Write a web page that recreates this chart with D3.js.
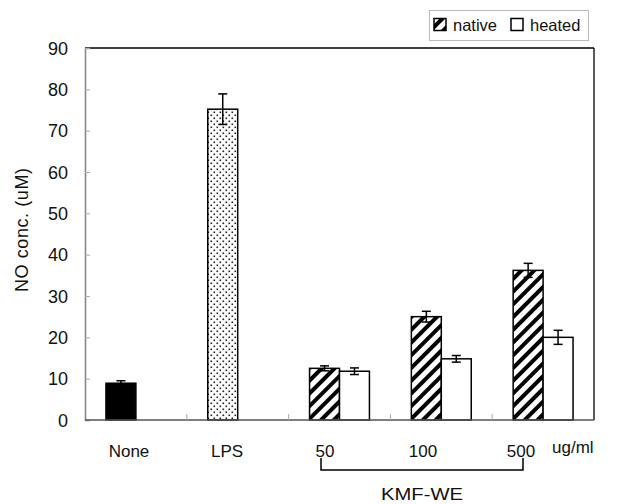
<!DOCTYPE html>
<html>
<head>
<meta charset="utf-8">
<script src="https://cdn.jsdelivr.net/npm/d3@7"></script>
<style>
  html, body { margin: 0; padding: 0; background: #fff; }
  svg { display: block; font-family: "Liberation Sans", Arial, sans-serif; }
</style>
</head>
<body>
<svg id="chart" width="631" height="504"></svg>
<script>
// NO production by treatment
const categories = ["None", "LPS", "50", "100", "500"];
const seriesNames = ["native", "heated"];
const nativeValues = [8.9, 75.2, 12.5, 25.0, 36.2];
const nativeErrors = [0.6, 3.7, 0.6, 1.3, 1.7];
const heatedValues = [null, null, 11.8, 14.8, 20.0];
const heatedErrors = [null, null, 0.8, 0.8, 1.7];
const yTicks = [0, 10, 20, 30, 40, 50, 60, 70, 80, 90];

const svg = d3.select("#chart");
const plotLeft = 85, plotRight = 594, plotTop = 48, plotBottom = 420;

const y = d3.scaleLinear().domain([0, 90]).range([plotBottom, plotTop]);
const x0 = d3.scaleBand().domain(categories).range([plotLeft, plotRight]).paddingInner(0).paddingOuter(0);
const x1 = d3.scaleBand().domain(seriesNames).range([0, x0.bandwidth()]).paddingInner(0).paddingOuter(0.7);
const labelX = d3.scalePoint().domain(categories).range([129, 521]);

// fill patterns
const defs = svg.append("defs");
const hatch = defs.append("pattern").attr("id", "hatch")
  .attr("patternUnits", "userSpaceOnUse").attr("width", 9).attr("height", 9)
  .attr("patternTransform", "rotate(45)");
hatch.append("rect").attr("width", 9).attr("height", 9).attr("fill", "#fff");
hatch.append("rect").attr("x", 0).attr("width", 4).attr("height", 9).attr("fill", "#000");

const dots = defs.append("pattern").attr("id", "dots")
  .attr("patternUnits", "userSpaceOnUse").attr("width", 6).attr("height", 6);
dots.append("rect").attr("width", 6).attr("height", 6).attr("fill", "#fff");
dots.append("rect").attr("x", 0.5).attr("y", 0.5).attr("width", 1.6).attr("height", 1.6).attr("fill", "#222");
dots.append("rect").attr("x", 3.5).attr("y", 3.5).attr("width", 1.6).attr("height", 1.6).attr("fill", "#222");

function firstFill(cat) {
  if (cat === "None") return "#000";
  if (cat === "LPS") return "url(#dots)";
  return "url(#hatch)";
}

// frame: top and right black
svg.append("line").attr("x1", plotLeft).attr("x2", plotRight).attr("y1", plotTop).attr("y2", plotTop)
  .attr("stroke", "#000").attr("stroke-width", 1.3);
svg.append("line").attr("x1", plotRight).attr("x2", plotRight).attr("y1", plotTop).attr("y2", plotBottom)
  .attr("stroke", "#000").attr("stroke-width", 1.3);

// y axis with inward ticks
const yAxis = d3.axisRight(y).tickValues(yTicks).tickSize(5).tickFormat("");
const yg = svg.append("g").attr("transform", `translate(${plotLeft},0)`).call(yAxis);
yg.select(".domain").attr("stroke", "#888").attr("stroke-width", 1.6);
yg.selectAll(".tick line").attr("stroke", "#aaa");
svg.selectAll("text.ytick").data(yTicks).enter().append("text")
  .attr("class", "ytick")
  .attr("x", 68).attr("y", d => y(d) + 6.5)
  .attr("text-anchor", "end").attr("font-size", 18).attr("fill", "#111")
  .text(d => d);

svg.append("text")
  .attr("transform", `translate(28,${(plotTop + plotBottom) / 2 - 4}) rotate(-90)`)
  .attr("text-anchor", "middle").attr("font-size", 18).attr("fill", "#111")
  .attr("textLength", 124).attr("lengthAdjust", "spacing")
  .text("NO conc. (uM)");

// bars
const rows = categories.map((c, i) => ({ c, i }));
const nativeBars = rows.filter(r => nativeValues[r.i] != null);
const heatedBars = rows.filter(r => heatedValues[r.i] != null);

svg.selectAll("rect.native").data(nativeBars).enter().append("rect")
  .attr("class", "native")
  .attr("x", r => x0(r.c) + x1("native"))
  .attr("y", r => y(nativeValues[r.i]))
  .attr("width", x1.bandwidth())
  .attr("height", r => y(0) - y(nativeValues[r.i]))
  .attr("fill", r => firstFill(r.c))
  .attr("stroke", "#000").attr("stroke-width", 1.5);

svg.selectAll("rect.heated").data(heatedBars).enter().append("rect")
  .attr("class", "heated")
  .attr("x", r => x0(r.c) + x1("heated"))
  .attr("y", r => y(heatedValues[r.i]))
  .attr("width", x1.bandwidth())
  .attr("height", r => y(0) - y(heatedValues[r.i]))
  .attr("fill", "#fff")
  .attr("stroke", "#000").attr("stroke-width", 1.5);

// x axis (bottom) with inward ticks at category boundaries
const boundaries = categories.slice(1).map(c => x0(c));
svg.append("line").attr("x1", plotLeft).attr("x2", plotRight).attr("y1", plotBottom).attr("y2", plotBottom)
  .attr("stroke", "#555").attr("stroke-width", 1.6);
svg.selectAll("line.xtick").data(boundaries).enter().append("line")
  .attr("class", "xtick")
  .attr("x1", d => d).attr("x2", d => d).attr("y1", plotBottom).attr("y2", plotBottom - 6)
  .attr("stroke", "#aaa");

// error bars
function errorBars(cls, bars, vals, errs, key) {
  const g = svg.selectAll("g." + cls).data(bars).enter().append("g").attr("class", cls)
    .attr("stroke", "#000").attr("stroke-width", 1.5);
  const cx = r => x0(r.c) + x1(key) + x1.bandwidth() / 2;
  g.append("line").attr("x1", cx).attr("x2", cx)
    .attr("y1", r => y(vals[r.i] + errs[r.i])).attr("y2", r => y(vals[r.i] - errs[r.i]));
  g.append("line").attr("x1", r => cx(r) - 4.5).attr("x2", r => cx(r) + 4.5)
    .attr("y1", r => y(vals[r.i] + errs[r.i])).attr("y2", r => y(vals[r.i] + errs[r.i]));
  g.append("line").attr("x1", r => cx(r) - 4.5).attr("x2", r => cx(r) + 4.5)
    .attr("y1", r => y(vals[r.i] - errs[r.i])).attr("y2", r => y(vals[r.i] - errs[r.i]));
}
errorBars("errN", nativeBars, nativeValues, nativeErrors, "native");
errorBars("errH", heatedBars, heatedValues, heatedErrors, "heated");

// category labels
svg.selectAll("text.xlab").data(categories).enter().append("text")
  .attr("class", "xlab")
  .attr("x", c => labelX(c)).attr("y", 457)
  .attr("text-anchor", "middle").attr("font-size", 17).attr("fill", "#111")
  .text(c => c);
svg.append("text").attr("x", 552).attr("y", 453).attr("font-size", 17).attr("fill", "#111")
  .text("ug/ml");

// bracket grouping the extract doses
const bx1 = labelX("50") - 4, bx2 = labelX("500") + 2;
svg.append("path")
  .attr("d", `M${bx1},458V470H${bx2}V458`)
  .attr("fill", "none").attr("stroke", "#000").attr("stroke-width", 1.5);
svg.append("text").attr("x", (bx1 + bx2) / 2).attr("y", 500)
  .attr("text-anchor", "middle").attr("font-size", 17).attr("fill", "#111")
  .attr("textLength", 82).attr("lengthAdjust", "spacingAndGlyphs")
  .text("KMF-WE");

// legend
const lg = svg.append("g");
lg.append("rect").attr("x", 429.5).attr("y", 10.5).attr("width", 159).attr("height", 30)
  .attr("fill", "#fff").attr("stroke", "#bbb");
const legendItems = [
  { name: "native", fill: "url(#hatch)", x: 434 },
  { name: "heated", fill: "#fff", x: 511 }
];
legendItems.forEach(d => {
  lg.append("rect").attr("x", d.x).attr("y", 18.5).attr("width", 12).attr("height", 12)
    .attr("fill", d.fill).attr("stroke", "#000").attr("stroke-width", 1.5);
  lg.append("text").attr("x", d.x + 19).attr("y", 31).attr("font-size", 16.5).attr("fill", "#111")
    .text(d.name);
});
</script>
</body>
</html>
